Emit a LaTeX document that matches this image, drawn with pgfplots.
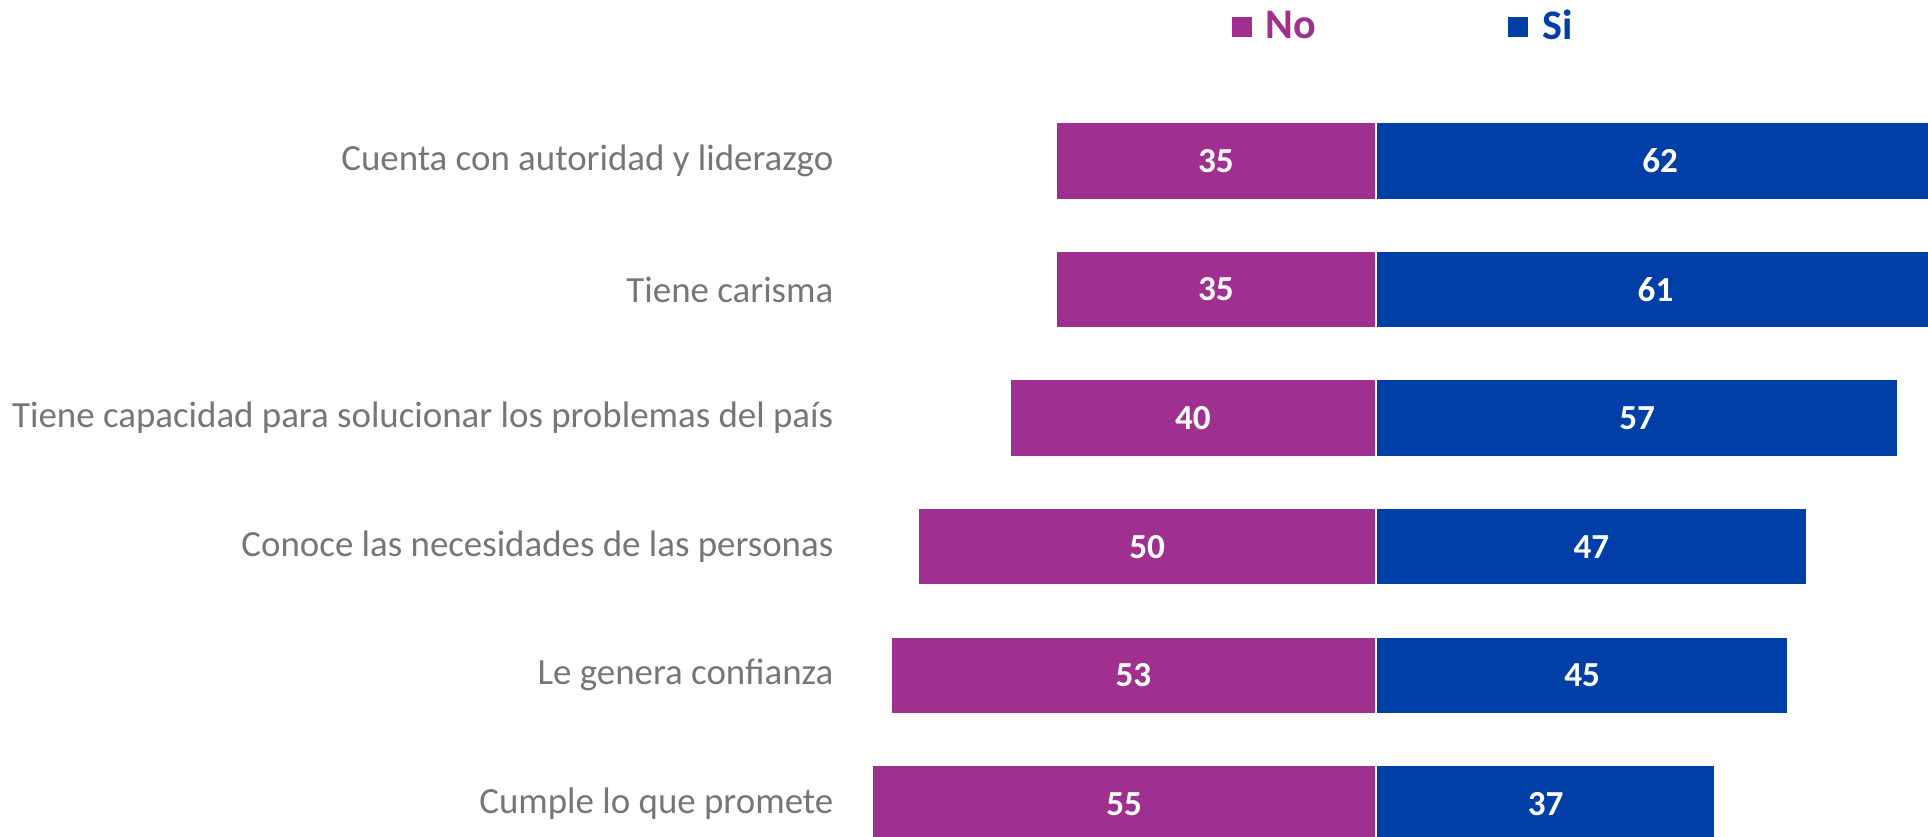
\documentclass[border=0pt]{standalone}
\usepackage{pgfplots}
\pgfplotsset{compat=1.18}
\usepackage{fontspec}
\setmainfont{Carlito}
\definecolor{nocol}{RGB}{160,48,143}
\definecolor{sicol}{RGB}{0,63,168}
\definecolor{labgray}{RGB}{118,118,118}
\begin{document}
\begin{tikzpicture}
\begin{axis}[
    name=ax,
    scale only axis,
    width=10.74cm,
    height=7.37cm,
    xmin=-57, xmax=60.25,
    ymin=-0.257, ymax=5.474,
    axis line style={draw=none},
    tick style={draw=none},
    xtick=\empty,
    ytick={0,1,2,3,4,5},
    yticklabels={Cumple lo que promete, Le genera confianza, Conoce las necesidades de las personas, Tiene capacidad para solucionar los problemas del país, Tiene carisma, Cuenta con autoridad y liderazgo},
    yticklabel style={font=\fontsize{10.5}{13}\selectfont, text=labgray, anchor=east, inner sep=0pt, xshift=-0.2cm},
    legend columns=2,
    legend style={at={(0.349,1.099)}, anchor=west, draw=none, fill=none, inner sep=0pt,
        font=\fontsize{12}{14}\selectfont\bfseries,
        nodes={inner sep=0.12cm},
        /tikz/every even column/.append style={column sep=1.78cm}},
    legend image code/.code={\fill[#1] (0cm,-0.11cm) rectangle (0.22cm,0.11cm);},
]
    % No (drawn to the left)
    \addplot[xbar, bar width=0.775cm, bar shift=0pt, fill=nocol, draw=white, line width=0.6pt]
        coordinates {(-35,5) (-35,4) (-40,3) (-50,2) (-53,1) (-55,0)};
    % Si
    \addplot[xbar, bar width=0.775cm, bar shift=0pt, fill=sicol, draw=white, line width=0.6pt]
        coordinates {(62,5) (61,4) (57,3) (47,2) (45,1) (37,0)};
    \legend{\textcolor{nocol}{No}, \textcolor{sicol}{Si}}
    % value labels at the middle of each bar
    \addplot[draw=none, forget plot, nodes near coords, point meta=explicit symbolic,
        every node near coord/.append style={anchor=center, text=white, font=\fontsize{10}{12}\selectfont\bfseries}]
        coordinates {(-17.5,5) [35] (-17.5,4) [35] (-20,3) [40] (-25,2) [50] (-26.5,1) [53] (-27.5,0) [55]};
    \addplot[draw=none, forget plot, nodes near coords, point meta=explicit symbolic,
        every node near coord/.append style={anchor=center, text=white, font=\fontsize{10}{12}\selectfont\bfseries}]
        coordinates {(31,5) [62] (30.5,4) [61] (28.5,3) [57] (23.5,2) [47] (22.5,1) [45] (18.5,0) [37]};
\end{axis}
\pgfresetboundingbox
\path ([xshift=-8.54cm]ax.south west) rectangle ([yshift=1.0cm]ax.north east);
\end{tikzpicture}
\end{document}
